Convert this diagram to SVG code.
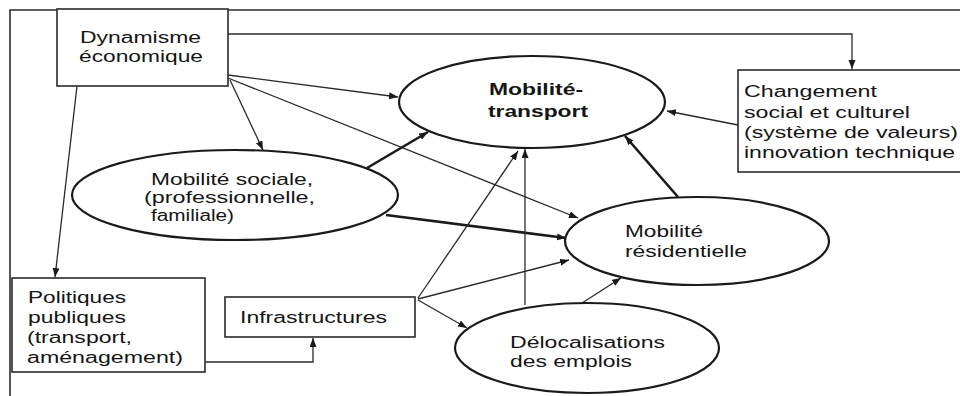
<svg xmlns="http://www.w3.org/2000/svg" width="960" height="396" viewBox="0 0 960 396">
<defs>
<style>
.t{font-family:"Liberation Sans",Arial,sans-serif;font-size:16px;fill:#151515}
.b{font-weight:bold}
.box{fill:#fff;stroke:#2a2a2a;stroke-width:1.6}
.ell{fill:#fff;stroke:#1a1a1a;stroke-width:2.2}
.c{fill:none;stroke:#2a2a2a;stroke-width:1.3;marker-end:url(#a)}
.k{fill:none;stroke:#1a1a1a;stroke-width:2.6;marker-end:url(#a)}
</style>
<marker id="a" markerUnits="userSpaceOnUse" markerWidth="10" markerHeight="8" refX="9" refY="3.5" orient="auto">
<path d="M0,0 L9,3.5 L0,7 z" fill="#1a1a1a"/>
</marker>
</defs>
<rect width="960" height="396" fill="#fff"/>
<path d="M10,396 V10 H960" fill="none" stroke="#2a2a2a" stroke-width="1.6"/>

<g id="connectors">
<path class="c" d="M228,34 H852 V69"/>
<path class="c" d="M77,86 L55,277"/>
<path class="c" d="M228,75 L398,97"/>
<path class="c" d="M230,80 L263,150"/>
<path class="c" d="M228,78 L578,218"/>
<path class="k" d="M367,168 L428,132"/>
<path class="k" d="M386,215 L566,238"/>
<path class="k" d="M678,197 L625,136"/>
<path class="c" d="M738,125 L667,111"/>
<path class="c" d="M418,298 L518,151"/>
<path class="c" d="M418,299 L569,260"/>
<path class="c" d="M418,300 L467,328"/>
<path class="c" d="M525,305 V149"/>
<path class="c" d="M582,303 L621,278"/>
<path class="c" d="M205,362 H313 V338"/>
</g>

<g id="dynamisme">
<rect class="box" x="57" y="9" width="171" height="77"/>
<text class="t" x="80" y="43" textLength="121" lengthAdjust="spacingAndGlyphs">Dynamisme</text>
<text class="t" x="79" y="62" textLength="124" lengthAdjust="spacingAndGlyphs">économique</text>
</g>

<g id="changement">
<rect class="box" x="738" y="70" width="230" height="102"/>
<text class="t" x="744" y="97" textLength="133" lengthAdjust="spacingAndGlyphs">Changement</text>
<text class="t" x="744" y="118" textLength="166" lengthAdjust="spacingAndGlyphs">social et culturel</text>
<text class="t" x="744" y="138" textLength="214" lengthAdjust="spacingAndGlyphs">(système de valeurs)</text>
<text class="t" x="744" y="158" textLength="211" lengthAdjust="spacingAndGlyphs">innovation technique</text>
</g>

<g id="mobilite-transport">
<ellipse cx="532" cy="102" rx="133" ry="46" class="ell" stroke-width="2.6"/>
<text class="t b" x="489" y="95" textLength="94" lengthAdjust="spacingAndGlyphs">Mobilité-</text>
<text class="t b" x="488" y="117" textLength="100" lengthAdjust="spacingAndGlyphs">transport</text>
</g>

<g id="mobilite-sociale">
<ellipse cx="235" cy="195" rx="163" ry="45" class="ell"/>
<text class="t" x="151" y="185" textLength="162" lengthAdjust="spacingAndGlyphs">Mobilité sociale,</text>
<text class="t" x="144" y="203" textLength="171" lengthAdjust="spacingAndGlyphs">(professionnelle,</text>
<text class="t" x="151" y="221" textLength="83" lengthAdjust="spacingAndGlyphs">familiale)</text>
</g>

<g id="mobilite-residentielle">
<ellipse cx="697" cy="241" rx="132" ry="44" class="ell"/>
<text class="t" x="625" y="237" textLength="78" lengthAdjust="spacingAndGlyphs">Mobilité</text>
<text class="t" x="625" y="257" textLength="122" lengthAdjust="spacingAndGlyphs">résidentielle</text>
</g>

<g id="delocalisations">
<ellipse cx="587" cy="348" rx="132" ry="45" class="ell"/>
<text class="t" x="510" y="348" textLength="155" lengthAdjust="spacingAndGlyphs">Délocalisations</text>
<text class="t" x="510" y="367" textLength="122" lengthAdjust="spacingAndGlyphs">des emplois</text>
</g>

<g id="politiques">
<rect class="box" x="12" y="278" width="193" height="94"/>
<text class="t" x="28" y="303" textLength="98" lengthAdjust="spacingAndGlyphs">Politiques</text>
<text class="t" x="28" y="323" textLength="98" lengthAdjust="spacingAndGlyphs">publiques</text>
<text class="t" x="27" y="343" textLength="105" lengthAdjust="spacingAndGlyphs">(transport,</text>
<text class="t" x="27" y="363" textLength="156" lengthAdjust="spacingAndGlyphs">aménagement)</text>
</g>

<g id="infrastructures">
<rect class="box" x="225" y="297" width="190" height="40"/>
<text class="t" x="240" y="323" textLength="147" lengthAdjust="spacingAndGlyphs">Infrastructures</text>
</g>
</svg>
